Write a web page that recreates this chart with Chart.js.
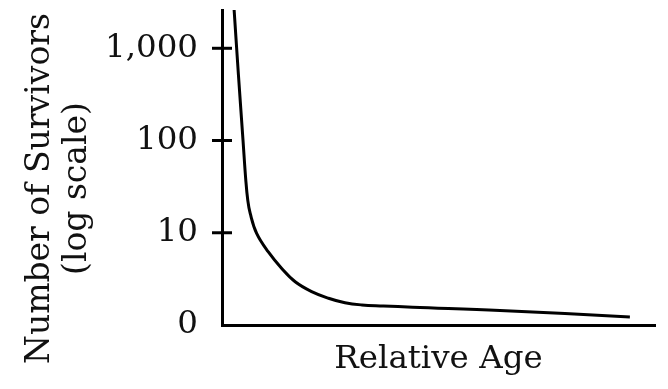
<!DOCTYPE html>
<html>
<head>
<meta charset="utf-8">
<script src="https://cdn.jsdelivr.net/npm/chart.js@4/dist/chart.umd.min.js"></script>
<style>
html, body { margin: 0; padding: 0; background: #fff; }
#wrap { position: relative; width: 668px; height: 389px; }
</style>
</head>
<body>
<div id="wrap"><canvas id="chart" width="668" height="389"></canvas></div>
<script>
// survivorship curve
const ages = [2.8, 3.8, 4.85, 5.5, 5.95, 6.5, 8.0, 10.7, 13.8, 16.9, 20.7, 24.6, 28.4, 32.3, 37.3, 44.0, 64.2, 94.2];
const survivors = [2600, 510, 101, 37, 22.6, 16.3, 9.85, 6.2, 4.1, 2.94, 2.3, 1.95, 1.74, 1.65, 1.61, 1.56, 1.44, 1.22];

const tickValues = [1, 10, 100, 1000];
const tickLabels = ['0', '10', '100', '1,000'];
const yTitle = ['Number of Survivors', '(log scale)'];
const xTitle = 'Relative Age';

const FONT = 'DejaVu Serif';
const INK = '#111';

// tick marks that cross the y axis (skip the bottom one, it sits on the corner)
const crossTicks = {
    id: 'crossTicks',
    afterDraw(chart) {
        const { ctx, chartArea } = chart;
        const y = chart.scales.y;
        ctx.save();
        ctx.strokeStyle = '#000';
        ctx.lineWidth = 3;
        tickValues.slice(1).forEach(v => {
            const py = y.getPixelForValue(v);
            ctx.beginPath();
            ctx.moveTo(chartArea.left - 10, py);
            ctx.lineTo(chartArea.left + 10, py);
            ctx.stroke();
        });
        ctx.restore();
    }
};

// y title sits a bit lower than the axis middle, so draw it here
const yTitlePlugin = {
    id: 'yTitle',
    afterDraw(chart) {
        const { ctx, chartArea } = chart;
        const cy = (chartArea.top + chartArea.bottom) / 2 + 21;
        ctx.save();
        ctx.fillStyle = INK;
        ctx.font = '33px "' + FONT + '"';
        ctx.textAlign = 'center';
        ctx.textBaseline = 'middle';
        yTitle.forEach((line, i) => {
            ctx.save();
            ctx.translate(40 + i * 37, cy);
            ctx.rotate(-Math.PI / 2);
            ctx.fillText(line, 0, 0);
            ctx.restore();
        });
        ctx.restore();
    }
};

new Chart(document.getElementById('chart'), {
    type: 'line',
    data: {
        datasets: [{
            data: ages.map((a, i) => ({ x: a, y: survivors[i] })),
            borderColor: '#000',
            borderWidth: 3,
            pointRadius: 0,
            fill: false,
            tension: 0.4
        }]
    },
    options: {
        responsive: false,
        animation: false,
        devicePixelRatio: 1,
        layout: { padding: { top: 10, right: 13, bottom: 0, left: 0 } },
        plugins: {
            legend: { display: false },
            tooltip: { enabled: false }
        },
        scales: {
            x: {
                type: 'linear',
                min: 0,
                max: 100,
                afterFit: s => { s.height = 64; s.paddingLeft = 0; s.paddingRight = 0; },
                grid: { display: false, drawTicks: false },
                border: { display: true, color: '#000', width: 3 },
                ticks: { display: false },
                title: {
                    display: true,
                    text: xTitle,
                    color: INK,
                    font: { family: FONT, size: 32.5 },
                    padding: { top: 0, bottom: 10 }
                }
            },
            y: {
                type: 'logarithmic',
                min: 1,
                max: 2600,
                afterBuildTicks: s => { s.ticks = tickValues.map(v => ({ value: v })); },
                afterFit: s => { s.width = 222; s.paddingTop = 0; s.paddingBottom = 0; },
                grid: { display: false, drawTicks: false },
                border: { display: true, color: '#000', width: 3 },
                ticks: {
                    autoSkip: false,
                    padding: 24,
                    color: INK,
                    font: { family: FONT, size: 32.5 },
                    callback: (v, i) => tickLabels[i]
                }
            }
        }
    },
    plugins: [crossTicks, yTitlePlugin]
});
</script>
</body>
</html>
